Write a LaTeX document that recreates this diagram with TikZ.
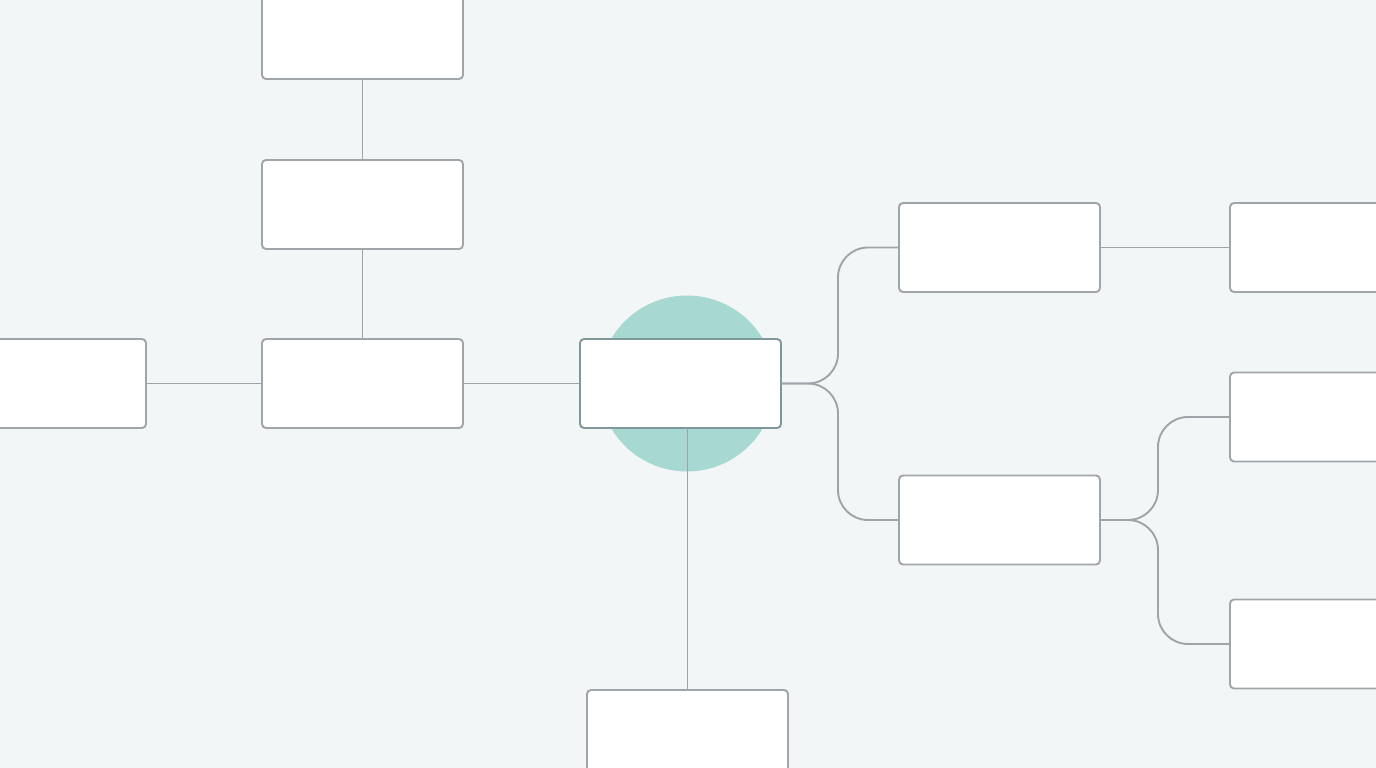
\documentclass[tikz,border=0pt]{standalone}
\begin{document}
\begin{tikzpicture}[x=1pt,y=-1pt,
  box/.style={draw=boxline,fill=white,line width=1.9pt,rounded corners=4pt,minimum width=201pt,minimum height=89pt,inner sep=0pt,outer sep=0pt},
  hub/.style={box,draw=hubline},
  conn/.style={draw=lineclr,line width=1.9pt}]
\definecolor{bg}{HTML}{F2F6F7}
\definecolor{boxline}{HTML}{A0A5A9}
\definecolor{hubline}{HTML}{7E999B}
\definecolor{lineclr}{HTML}{9EA4A8}
\definecolor{teal}{HTML}{A8D8D2}
\useasboundingbox (0,0) rectangle (1376,768);
\fill[bg] (0,0) rectangle (1376,768);
\clip (0,0) rectangle (1376,768);
\fill[teal] (687,383.5) circle (88);
% nodes
\node[box] (top) at (362.5,34.5) {};
\node[box] (mid) at (362.5,204.5) {};
\node[box] (lm) at (362.5,383.5) {};
\node[box] (left) at (45.5,383.5) {};
\node[hub] (c) at (680.5,383.5) {};
\node[box] (bot) at (687.5,734.5) {};
\node[box] (r1) at (999.5,247.5) {};
\node[box] (r2) at (999.5,520) {};
\node[box] (f1) at (1330.5,247.5) {};
\node[box] (f2) at (1330.5,417) {};
\node[box] (f3) at (1330.5,644) {};
\coordinate (jx1) at (838,0);
\coordinate (jx2) at (1158,0);
% connectors
\draw[conn] (top.south) -- (mid.north);
\draw[conn] (mid.south) -- (lm.north);
\draw[conn] (left.east) -- (lm.west);
\draw[conn] (lm.east) -- (c.west);
\draw[conn] (c.south -| bot.north) -- (bot.north);
\draw[conn,rounded corners=30pt] (c.east) -- (c.east -| jx1) |- (r1.west);
\draw[conn,rounded corners=30pt] (c.east) -- (c.east -| jx1) |- (r2.west);
\draw[conn] (r1.east) -- (f1.west);
\draw[conn,rounded corners=30pt] (r2.east) -- (r2.east -| jx2) |- (f2.west);
\draw[conn,rounded corners=30pt] (r2.east) -- (r2.east -| jx2) |- (f3.west);
\end{tikzpicture}
\end{document}
